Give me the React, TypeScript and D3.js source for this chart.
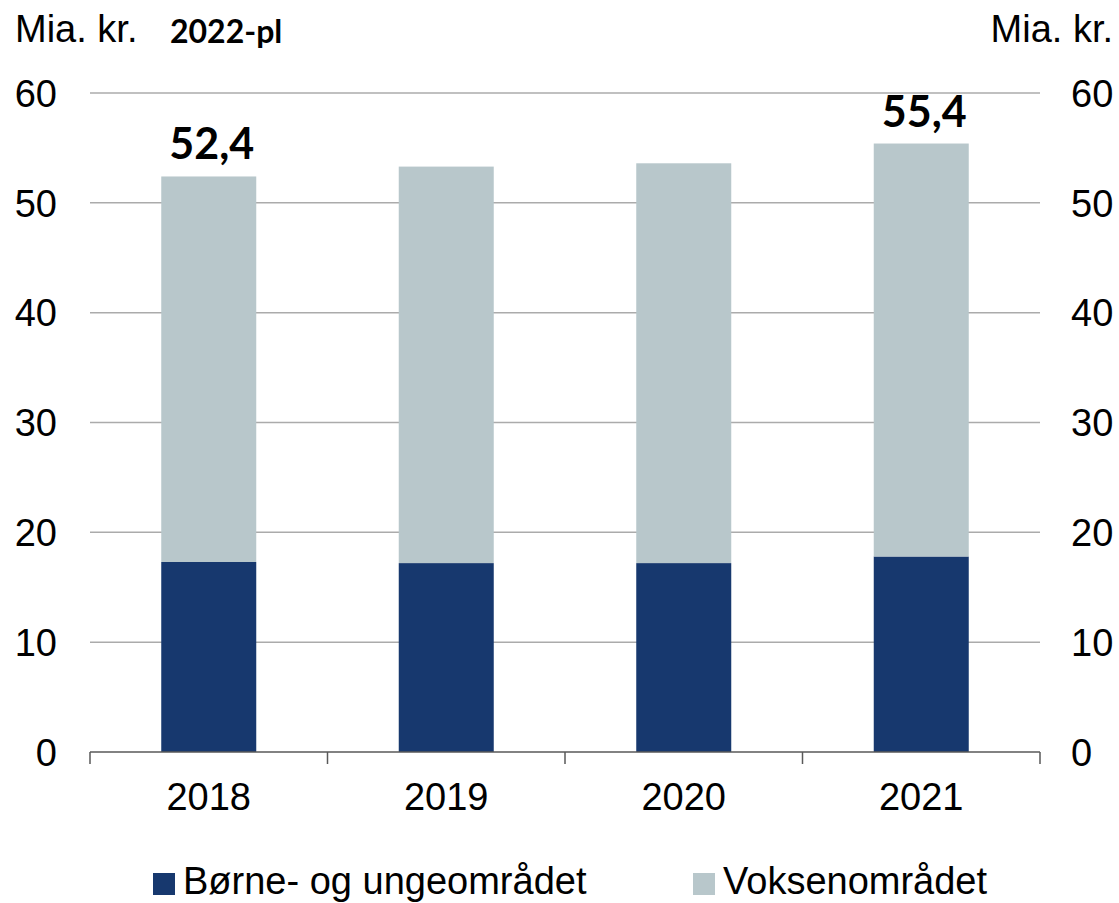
import React from "react";
import * as d3 from "d3";

const years = ["2018", "2019", "2020", "2021"];
const boerneUnge = [17.3, 17.2, 17.2, 17.8];
const voksen = [35.1, 36.1, 36.4, 37.6];
const totalLabels = ["52,4", "", "", "55,4"];
const yTicks = [0, 10, 20, 30, 40, 50, 60];
const seriesNames = ["Børne- og ungeområdet", "Voksenområdet"];
const colors = ["#17386E", "#B8C7CB"];

const W = 1119;
const H = 903;
const left = 90;
const right = 1040;
const top = 93;
const bottom = 752;
const font = "'Liberation Sans', Arial, sans-serif";
const boldFont = "Lato, 'Open Sans', sans-serif";

export default function App() {
  const x = d3.scaleBand<string>().domain(years).range([left, right]).paddingInner(0.6).paddingOuter(0.3);
  const xOuter = d3.scaleBand<string>().domain(years).range([left, right]).padding(0);
  const y = d3.scaleLinear().domain([0, 60]).range([bottom, top]);
  const data = years.map((yr, i) => ({ yr, a: boerneUnge[i], b: voksen[i] }));
  const stack = d3.stack<any>().keys(["a", "b"])(data);
  const fs = 38;

  return (
    <svg width={W} height={H} style={{ position: "absolute", left: 0, top: 0, background: "#fff" }}>
      {yTicks.filter((t) => t > 0).map((t) => (
        <line key={"g" + t} x1={left} x2={right} y1={y(t)} y2={y(t)} stroke="#ABABAB" strokeWidth={1.5} />
      ))}
      {stack.map((s, si) =>
        s.map((d, i) => (
          <rect
            key={si + "-" + i}
            x={x(years[i])}
            width={x.bandwidth()}
            y={y(d[1])}
            height={y(d[0]) - y(d[1])}
            fill={colors[si]}
          />
        ))
      )}
      <line x1={left} x2={right} y1={bottom} y2={bottom} stroke="#595959" strokeWidth={1.5} />
      {[...years.map((yr) => xOuter(yr) as number), right].map((tx, i) => (
        <line key={"t" + i} x1={tx} x2={tx} y1={bottom} y2={bottom + 12} stroke="#595959" strokeWidth={1.5} />
      ))}
      {yTicks.map((t) => (
        <g key={"yl" + t}>
          <text x={57} y={y(t)} dy="0.36em" textAnchor="end" fontFamily={font} fontSize={fs} fill="#000">
            {t}
          </text>
          <text x={1071} y={y(t)} dy="0.36em" textAnchor="start" fontFamily={font} fontSize={fs} fill="#000">
            {t}
          </text>
        </g>
      ))}
      {years.map((yr) => (
        <text key={"xl" + yr} x={(x(yr) as number) + x.bandwidth() / 2} y={810} textAnchor="middle" fontFamily={font} fontSize={fs} fill="#000">
          {yr}
        </text>
      ))}
      {data.map((d, i) =>
        totalLabels[i] ? (
          <text key={"tl" + i} x={(x(d.yr) as number) + x.bandwidth() / 2 + 3} y={y(d.a + d.b) - 17} textAnchor="middle" fontFamily={boldFont} fontWeight={700} fontSize={43} fill="#000">
            {totalLabels[i]}
          </text>
        ) : null
      )}
      <text x={15} y={42} fontFamily={font} fontSize={fs} fill="#000">Mia. kr.</text>
      <text x={1113} y={42} textAnchor="end" fontFamily={font} fontSize={fs} fill="#000">Mia. kr.</text>
      <text x={170} y={43} fontFamily={boldFont} fontWeight={700} fontSize={32} fill="#000">2022-pl</text>
      <rect x={153} y={873} width={22} height={22} fill={colors[0]} />
      <text x={183} y={894} fontFamily={font} fontSize={fs} fill="#000">{seriesNames[0]}</text>
      <rect x={693} y={873} width={22} height={22} fill={colors[1]} />
      <text x={723} y={894} fontFamily={font} fontSize={fs} fill="#000">{seriesNames[1]}</text>
    </svg>
  );
}
